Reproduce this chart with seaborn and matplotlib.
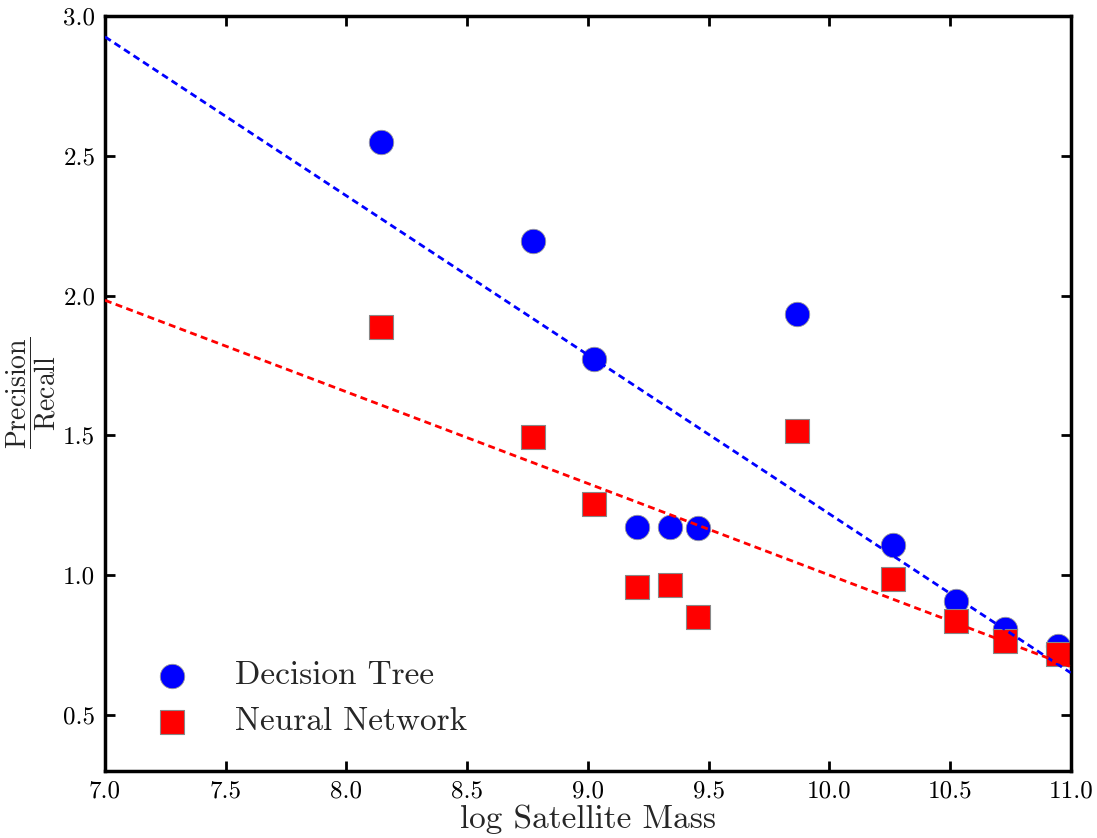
import numpy as np
import pandas as pd
import matplotlib
matplotlib.use("Agg")
import matplotlib.pyplot as plt
import seaborn as sns

# ---- data ----
mass = [8.144, 8.774, 9.027, 9.205, 9.342, 9.458, 9.868, 10.266, 10.523, 10.727, 10.946]
tree_ratio = [2.548, 2.194, 1.774, 1.172, 1.172, 1.168, 1.935, 1.108, 0.907, 0.806, 0.746]
nn_ratio = [1.889, 1.495, 1.254, 0.957, 0.964, 0.849, 1.516, 0.986, 0.835, 0.763, 0.717]
series_names = ["Decision Tree", "Neural Network"]
x_ticks = [7.0, 7.5, 8.0, 8.5, 9.0, 9.5, 10.0, 10.5, 11.0]
y_ticks = [0.5, 1.0, 1.5, 2.0, 2.5, 3.0]

sns.set_style("ticks")
plt.rcParams["font.family"] = ["serif"]
plt.rcParams["font.serif"] = ["cmr10", "DejaVu Serif"]
plt.rcParams["mathtext.fontset"] = "cm"
plt.rcParams["axes.unicode_minus"] = False
plt.rcParams["axes.formatter.use_mathtext"] = True

df_tree = pd.DataFrame({"mass": mass, "ratio": tree_ratio})
df_nn = pd.DataFrame({"mass": mass, "ratio": nn_ratio})

fig, ax = plt.subplots(figsize=(10.97, 8.38), dpi=100)
fig.subplots_adjust(left=0.0957, right=0.976, top=0.981, bottom=0.080)

ax.set_xlim(7.0, 11.0)
ax.set_ylim(0.3, 3.0)

sns.scatterplot(data=df_tree, x="mass", y="ratio", ax=ax, marker="o", s=310,
                color="#0000ff", edgecolor="#999999", linewidth=0.6,
                label=series_names[0], zorder=2)
sns.scatterplot(data=df_nn, x="mass", y="ratio", ax=ax, marker="s", s=310,
                color="#ff0000", edgecolor="#888888", linewidth=0.8,
                label=series_names[1], zorder=2)

sns.regplot(data=df_tree, x="mass", y="ratio", ax=ax, scatter=False, ci=None,
            truncate=False, color="#0000ff",
            line_kws=dict(linestyle=(0, (2.5, 1.6)), linewidth=2.0, zorder=3))
sns.regplot(data=df_nn, x="mass", y="ratio", ax=ax, scatter=False, ci=None,
            truncate=False, color="#ff0000",
            line_kws=dict(linestyle=(0, (2.5, 1.6)), linewidth=2.0, zorder=3))

ax.set_xlim(7.0, 11.0)
ax.set_ylim(0.3, 3.0)
ax.set_xticks(x_ticks)
ax.set_yticks(y_ticks)
ax.set_xticklabels([f"{v:.1f}" for v in x_ticks])
ax.set_yticklabels([f"{v:.1f}" for v in y_ticks])

for sp in ax.spines.values():
    sp.set_visible(True)
    sp.set_linewidth(2.5)
    sp.set_color("black")
ax.tick_params(direction="in", length=7, width=2, labelsize=18, pad=7,
               top=True, right=True, colors="black")

ax.set_xlabel("log Satellite Mass", fontsize=24, labelpad=1)
ax.set_ylabel(r"$\dfrac{\mathrm{Precision}}{\mathrm{Recall}}$", fontsize=20, labelpad=4)

leg = ax.legend(loc="lower left", frameon=False, fontsize=24, markerscale=1.0,
                labelspacing=0.5, handlelength=2.0, handletextpad=0.9,
                borderpad=0.4, borderaxespad=0.0,
                bbox_to_anchor=(0.021, 0.028))

fig.savefig("out.png", dpi=100)
